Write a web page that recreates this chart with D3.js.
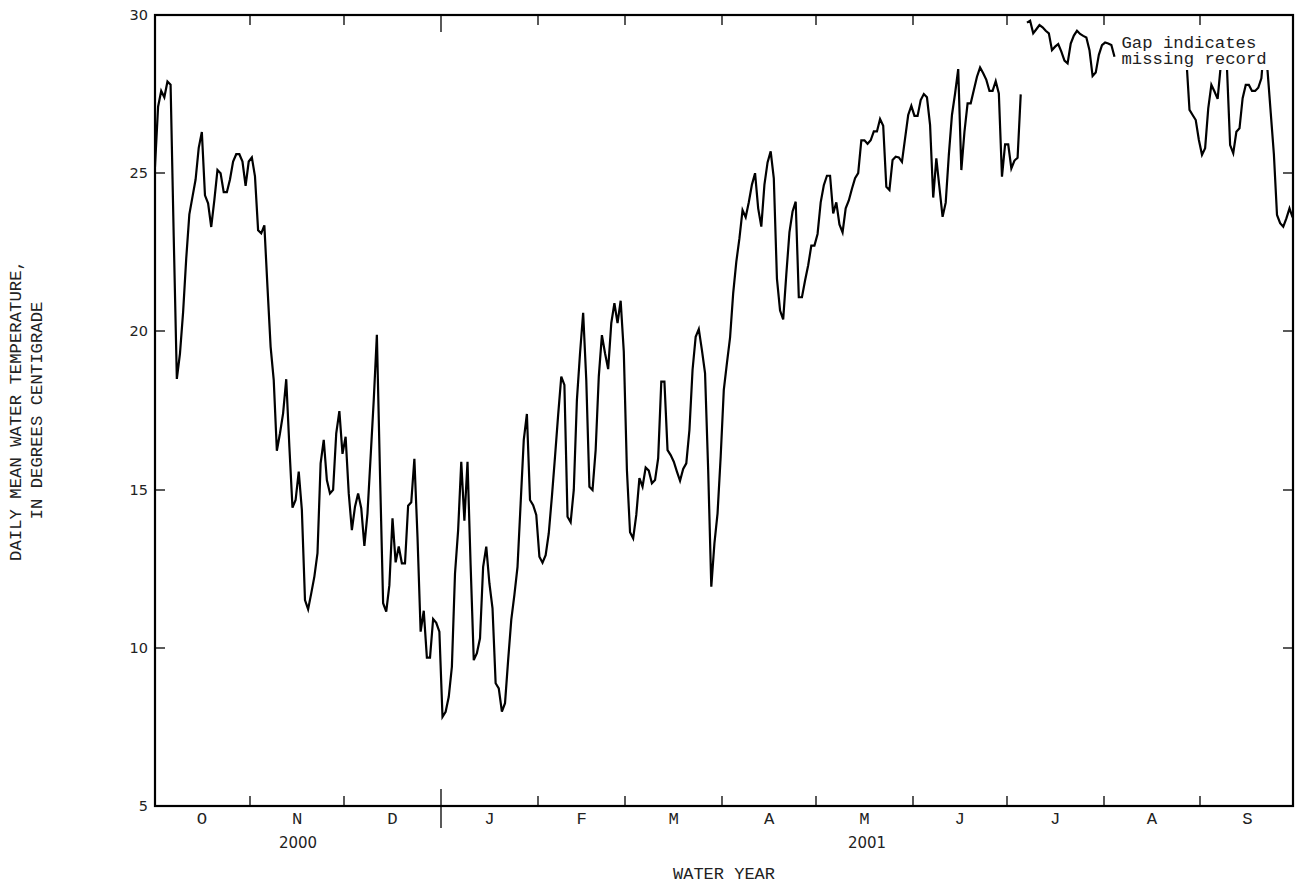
<!DOCTYPE html>
<html>
<head>
<meta charset="utf-8">
<script src="https://cdn.jsdelivr.net/npm/d3@7/dist/d3.min.js"></script>
<style>
  html, body { margin: 0; padding: 0; background: #fff; }
  svg { display: block; }
</style>
</head>
<body>
<svg id="chart" width="1296" height="884"></svg>
<script>
// ---------------- DATA (daily mean water temperature, deg C; null = missing record) ----------------
const tempOct = [25.2, 27.1, 27.6, 27.4, 27.9, 27.8, 23.0, 18.5, 19.3, 20.6, 22.3, 23.7, 24.25, 24.8, 25.8, 26.3,
  24.3, 24.05, 23.3, 24.15, 25.1, 25.0, 24.4, 24.4, 24.8, 25.37, 25.6, 25.6, 25.37, 24.6, 25.37];
const tempNov = [25.5, 24.9, 23.2, 23.1, 23.35, 21.4, 19.52, 18.46, 16.23, 16.78, 17.41, 18.49, 16.36, 14.43, 14.67,
  15.57, 14.36, 11.51, 11.22, 11.72, 12.25, 12.99, 15.83, 16.57, 15.3, 14.88, 14.99, 16.78, 17.48, 16.13];
const tempDec = [16.67, 14.88, 13.72, 14.46, 14.88, 14.41, 13.22, 14.25, 16.04, 17.83, 19.89, 15.5, 11.41, 11.14,
  11.98, 14.09, 12.7, 13.2, 12.67, 12.67, 14.49, 14.6, 15.97, 13.5, 10.51, 11.17, 9.69, 9.69, 10.91, 10.79, 10.51];
const tempJan = [7.82, 7.98, 8.45, 9.4, 12.35, 13.72, 15.88, 14.02, 15.88, 12.6, 9.61, 9.83, 10.3, 12.56, 13.2,
  12.04, 11.25, 8.88, 8.72, 7.98, 8.25, 9.61, 10.88, 11.67, 12.56, 14.57, 16.57, 17.39, 14.67, 14.51, 14.2];
const tempFeb = [12.88, 12.69, 12.93, 13.62, 14.78, 16.04, 17.36, 18.57, 18.31, 14.14, 13.97, 14.99, 17.83, 19.31,
  20.59, 18.46, 15.09, 14.99, 16.25, 18.57, 19.88, 19.31, 18.81, 20.26, 20.89, 20.26, 20.97, 19.36];
const tempMar = [15.62, 13.65, 13.46, 14.2, 15.36, 15.09, 15.7, 15.6, 15.2, 15.3, 15.99, 18.41, 18.41, 16.25, 16.09,
  15.88, 15.57, 15.28, 15.65, 15.83, 16.88, 18.78, 19.83, 20.07, 19.41, 18.68, 15.62, 11.93, 13.3, 14.25, 16.04];
const tempApr = [18.15, 19.0, 19.8, 21.2, 22.2, 22.94, 23.83, 23.61, 24.08, 24.64, 25.0, 23.89, 23.31, 24.64, 25.34,
  25.69, 24.84, 21.67, 20.66, 20.38, 21.8, 23.13, 23.79, 24.1, 21.08, 21.08, 21.61, 22.09, 22.71, 22.71];
const tempMay = [23.08, 24.08, 24.62, 24.92, 24.92, 23.73, 24.08, 23.38, 23.13, 23.89, 24.14, 24.51, 24.84, 25.0,
  26.04, 26.04, 25.93, 26.04, 26.32, 26.32, 26.71, 26.5, 24.57, 24.47, 25.42, 25.52, 25.5, 25.36, 26.1, 26.84, 27.13];
const tempJun = [26.81, 26.81, 27.31, 27.5, 27.4, 26.52, 24.23, 25.47, 24.54, 23.62, 24.07, 25.58, 26.84, 27.52,
  28.29, 25.1, 26.31, 27.21, 27.21, 27.63, 28.05, 28.34, 28.16, 27.95, 27.6, 27.6, 27.91, 27.52, 24.89, 25.91];
const tempJul = [25.91, 25.15, 25.4, 25.49, 27.49, null, 29.76, 29.82, 29.42, 29.55, 29.68, 29.61, 29.5, 29.42,
  28.89, 29.0, 29.08, 28.84, 28.56, 28.47, 29.1, 29.35, 29.5, 29.4, 29.34, 29.29, 28.89, 28.07, 28.18, 28.74, 29.05];
const tempAug = [29.13, 29.1, 29.05, 28.68, null, null, null, null, null, null, null, null, null, null, null, null,
  null, null, null, null, null, null, null, null, null, 29.3, 28.6, 27.0, 26.84, 26.68, 26.05];
const tempSep = [25.58, 25.79, 27.05, 27.79, 27.58, 27.35, 28.4, 29.3, 28.3, 25.89, 25.63, 26.31, 26.42, 27.37,
  27.79, 27.79, 27.6, 27.6, 27.7, 28.0, 29.2, 28.2, 26.9, 25.6, 23.68, 23.42, 23.31, 23.57, 23.89, 23.6];

const monthSeries = [tempOct, tempNov, tempDec, tempJan, tempFeb, tempMar, tempApr, tempMay, tempJun, tempJul, tempAug, tempSep];
const monthLabels = ["O", "N", "D", "J", "F", "M", "A", "M", "J", "J", "A", "S"];
const yTickValues = [5, 10, 15, 20, 25, 30];
const yearLabels = ["2000", "2001"];
const yearStarts = [[2000, 9], [2001, 0]];   // [year, monthIndex]
const waterYear = { startYear: 2000, startMonth: 9 };
const yLabelLines = ["DAILY MEAN WATER TEMPERATURE,", "IN DEGREES CENTIGRADE"];
const xTitle = "WATER YEAR";
const noteLines = ["Gap indicates", "missing record"];

// ---------------- LAYOUT ----------------
const W = 1296, H = 884;
const frame = { left: 155, right: 1293, top: 15, bottom: 806 };
const monoFont = "'Liberation Mono', 'Courier New', monospace";
const sansFont = "'DejaVu Sans', Verdana, sans-serif";

const svg = d3.select("#chart");

const wyStart = new Date(Date.UTC(waterYear.startYear, waterYear.startMonth, 1));
const wyEnd = new Date(Date.UTC(waterYear.startYear + 1, waterYear.startMonth, 1));

const x = d3.scaleUtc().domain([wyStart, wyEnd]).range([153.4, 1294.2]);
const y = d3.scaleLinear().domain([5, 30]).range([frame.bottom, frame.top]);

// build daily records (plotted at noon of each day)
const daily = [];
monthSeries.forEach((arr, mi) => {
  const mStart = d3.utcMonth.offset(wyStart, mi);
  arr.forEach((v, di) => {
    const d = d3.utcDay.offset(mStart, di);
    daily.push({ date: new Date(d.getTime() + 12 * 3600 * 1000), v: v });
  });
});

// clip
svg.append("defs").append("clipPath").attr("id", "plotclip")
  .append("rect")
  .attr("x", frame.left).attr("y", frame.top - 5)
  .attr("width", frame.right - frame.left).attr("height", frame.bottom - frame.top + 5);

// data line
const line = d3.line()
  .defined(d => d.v !== null)
  .x(d => x(d.date))
  .y(d => y(d.v));

svg.append("path")
  .datum(daily)
  .attr("clip-path", "url(#plotclip)")
  .attr("fill", "none")
  .attr("stroke", "#000")
  .attr("stroke-width", 2.2)
  .attr("stroke-linejoin", "miter")
  .attr("d", line);

// note with white background (hides record under it)
const noteX = 1121.5, noteY0 = 47.5, noteDy = 16.6;
svg.append("rect")
  .attr("x", 1116).attr("y", 17)
  .attr("width", 1272 - 1116).attr("height", 70 - 17)
  .attr("fill", "#fff");
noteLines.forEach((t, i) => {
  svg.append("text")
    .attr("x", noteX).attr("y", noteY0 + i * noteDy)
    .attr("font-family", monoFont).attr("font-size", 17.3)
    .attr("fill", "#222")
    .text(t);
});

// frame
svg.append("rect")
  .attr("x", frame.left).attr("y", frame.top)
  .attr("width", frame.right - frame.left).attr("height", frame.bottom - frame.top)
  .attr("fill", "none").attr("stroke", "#000").attr("stroke-width", 2.2);

// month ticks (bottom and top), year boundary longer
const monthStarts = d3.utcMonth.range(d3.utcMonth.offset(wyStart, 1), wyEnd);
const isYearStart = d => d.getUTCMonth() === 0;
const tickG = svg.append("g").attr("stroke", "#000").attr("stroke-width", 1.3);
monthStarts.forEach(d => {
  const xx = Math.round(x(d));
  if (isYearStart(d)) {
    tickG.append("line").attr("x1", xx).attr("x2", xx).attr("y1", frame.bottom - 17).attr("y2", frame.bottom + 22);
    tickG.append("line").attr("x1", xx).attr("x2", xx).attr("y1", frame.top).attr("y2", frame.top + 17);
  } else {
    tickG.append("line").attr("x1", xx).attr("x2", xx).attr("y1", frame.bottom - 10).attr("y2", frame.bottom);
    tickG.append("line").attr("x1", xx).attr("x2", xx).attr("y1", frame.top).attr("y2", frame.top + 10);
  }
});

// y ticks left and right (inward)
yTickValues.forEach(v => {
  const yy = Math.round(y(v));
  if (v !== 5 && v !== 30) {
    tickG.append("line").attr("x1", frame.left).attr("x2", frame.left + 10).attr("y1", yy).attr("y2", yy);
    tickG.append("line").attr("x1", frame.right - 10).attr("x2", frame.right).attr("y1", yy).attr("y2", yy);
  }
  svg.append("text")
    .attr("x", 148).attr("y", yy)
    .attr("dy", "0.36em")
    .attr("text-anchor", "end")
    .attr("font-family", sansFont).attr("font-size", 14.5)
    .attr("fill", "#222")
    .text(v);
});

// month labels
monthLabels.forEach((lab, i) => {
  const a = d3.utcMonth.offset(wyStart, i), b = d3.utcMonth.offset(wyStart, i + 1);
  const cx = (x(a) + x(b)) / 2;
  svg.append("text")
    .attr("x", cx).attr("y", 824)
    .attr("text-anchor", "middle")
    .attr("font-family", monoFont).attr("font-size", 17.3)
    .attr("fill", "#222")
    .text(lab);
});

// year labels
yearLabels.forEach((lab, i) => {
  const a = new Date(Date.UTC(yearStarts[i][0], yearStarts[i][1], 1));
  const b = i + 1 < yearStarts.length ? new Date(Date.UTC(yearStarts[i + 1][0], yearStarts[i + 1][1], 1)) : wyEnd;
  const cx = (Math.max(x(a), frame.left) + Math.min(x(b), frame.right)) / 2;
  svg.append("text")
    .attr("x", cx).attr("y", 847.5)
    .attr("text-anchor", "middle")
    .attr("font-family", sansFont).attr("font-size", 15)
    .attr("fill", "#222")
    .text(lab);
});

// x title
svg.append("text")
  .attr("x", (frame.left + frame.right) / 2).attr("y", 878.5)
  .attr("text-anchor", "middle")
  .attr("font-family", monoFont).attr("font-size", 17)
  .attr("fill", "#222")
  .text(xTitle);

// y title (rotated, two lines)
const yMid = (frame.top + frame.bottom) / 2;
const yTitleBaselines = [20.5, 42];
yLabelLines.forEach((t, i) => {
  svg.append("text")
    .attr("transform", `translate(${yTitleBaselines[i]},${yMid}) rotate(-90)`)
    .attr("text-anchor", "middle")
    .attr("font-family", monoFont).attr("font-size", 17.3)
    .attr("fill", "#222")
    .text(t);
});
</script>
</body>
</html>
